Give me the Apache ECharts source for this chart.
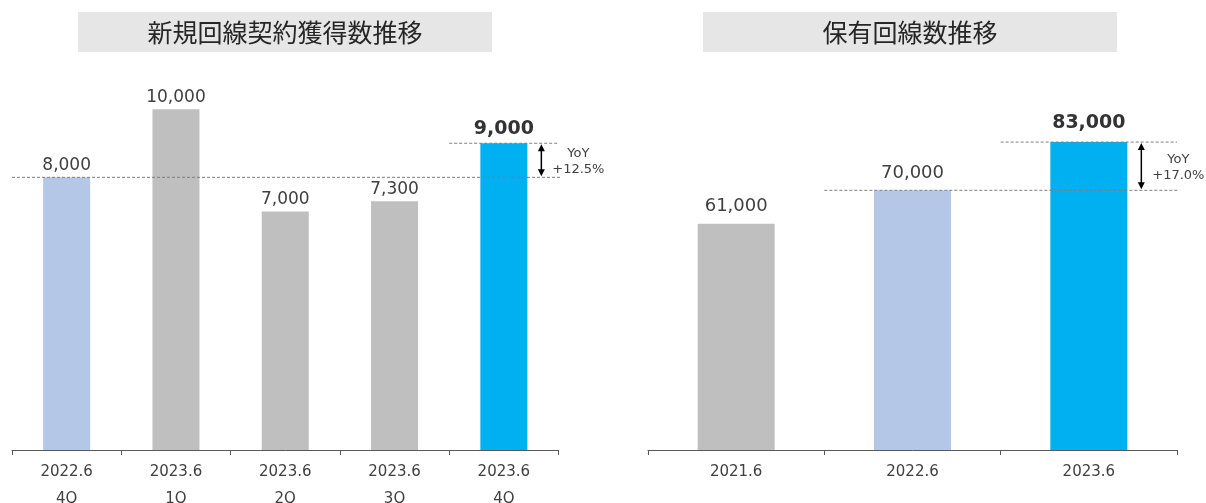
<!DOCTYPE html>
<html>
<head>
<meta charset="utf-8">
<script src="https://cdn.jsdelivr.net/npm/echarts@6/dist/echarts.min.js"></script>
<style>
  html, body { margin: 0; padding: 0; background: #fff; }
  #main { width: 1206px; height: 503px; }
</style>
</head>
<body>
<div id="main"></div>
<script>
// 新規回線契約獲得数 (quarterly)
const newPeriods = ['2022.6', '2023.6', '2023.6', '2023.6', '2023.6'];
const newQuarters = ['4Q', '1Q', '2Q', '3Q', '4Q'];
const newLines = [8000, 10000, 7000, 7300, 9000];
const newColors = ['#b4c7e7', '#bfbfbf', '#bfbfbf', '#bfbfbf', '#00b0f0'];
const newYoY = '+12.5%';

// 保有回線数 (yearly)
const heldPeriods = ['2021.6', '2022.6', '2023.6'];
const heldLines = [61000, 70000, 83000];
const heldColors = ['#bfbfbf', '#b4c7e7', '#00b0f0'];
const heldYoY = '+17.0%';

const FONT = '"DejaVu Sans", Verdana, sans-serif';
const CJK = '"Noto Sans CJK JP", sans-serif';
const TEXT = '#404040';

function barData(values, colors, dist, boldDist) {
  return values.map(function (v, i) {
    const last = i === values.length - 1;
    return {
      value: v,
      itemStyle: { color: colors[i] },
      label: last
        ? { fontWeight: 'bold', fontSize: 19, color: '#333', distance: boldDist }
        : { distance: dist }
    };
  });
}

const axisCommon = {
  type: 'category',
  axisLine: { lineStyle: { color: '#595959', width: 1 } },
  axisTick: { show: true, length: 5, lineStyle: { color: '#595959' } },
  axisLabel: { color: TEXT, fontSize: 15, fontFamily: FONT, lineHeight: 27, margin: 9, interval: 0 }
};

const option = {
  animation: false,
  grid: [
    { left: 12, width: 546.5, top: 41, bottom: 53, outerBoundsMode: 'none', containLabel: false },
    { left: 648, width: 529, top: 79, bottom: 53, outerBoundsMode: 'none', containLabel: false }
  ],
  xAxis: [
    Object.assign({}, axisCommon, {
      gridIndex: 0,
      data: newPeriods.map(function (p, i) { return p + '\n' + newQuarters[i]; })
    }),
    Object.assign({}, axisCommon, { gridIndex: 1, data: heldPeriods })
  ],
  yAxis: [
    { gridIndex: 0, type: 'value', min: 0, max: 12000, show: false, splitLine: { show: false } },
    { gridIndex: 1, type: 'value', min: 0, max: 100000, show: false, splitLine: { show: false } }
  ],
  series: [
    {
      type: 'bar',
      xAxisIndex: 0,
      yAxisIndex: 0,
      barWidth: 47,
      data: barData(newLines, newColors, 3, 5),
      label: {
        show: true, position: 'top', fontSize: 17, fontFamily: FONT, color: TEXT,
        formatter: function (p) { return p.value.toLocaleString('en-US'); }
      }
    },
    {
      type: 'bar',
      xAxisIndex: 1,
      yAxisIndex: 1,
      barWidth: 77,
      data: barData(heldLines, heldColors, 8, 10),
      label: {
        show: true, position: 'top', fontSize: 18, fontFamily: FONT, color: TEXT,
        formatter: function (p) { return p.value.toLocaleString('en-US'); }
      }
    }
  ]
};

const chart = echarts.init(document.getElementById('main'));
chart.setOption(option);

function dashed(x1, x2, y) {
  return {
    type: 'line', z: 10,
    shape: { x1: x1, y1: y, x2: x2, y2: y },
    style: { stroke: '#7f7f7f', lineWidth: 1, lineDash: [3, 2] }
  };
}

function arrow(x, yTop, yBot) {
  const h = 7, w = 3.5;
  return [
    { type: 'line', z: 10, shape: { x1: x, y1: yTop + 3, x2: x, y2: yBot - 3 }, style: { stroke: '#000', lineWidth: 1.5 } },
    { type: 'polygon', z: 10, shape: { points: [[x, yTop], [x - w, yTop + h], [x + w, yTop + h]] }, style: { fill: '#000' } },
    { type: 'polygon', z: 10, shape: { points: [[x, yBot], [x - w, yBot - h], [x + w, yBot - h]] }, style: { fill: '#000' } }
  ];
}

function titleBox(x, w, text) {
  return [
    { type: 'rect', shape: { x: x, y: 12, width: w, height: 40 }, style: { fill: '#e7e6e6' } },
    {
      type: 'text', z: 5,
      style: {
        text: text, x: x + w / 2, y: 32, align: 'center', verticalAlign: 'middle',
        fontSize: 25, fontFamily: CJK, fill: '#262626'
      }
    }
  ];
}

// YoY annotation: reference bar (prev) vs last bar, in grid g
function yoy(g, values, prevIdx, barW, label) {
  const last = values.length - 1;
  const pLast = chart.convertToPixel({ gridIndex: g }, [last, values[last]]);
  const pPrev = chart.convertToPixel({ gridIndex: g }, [prevIdx, values[prevIdx]]);
  const p0 = chart.convertToPixel({ gridIndex: g }, [0, 0]);
  const p1 = chart.convertToPixel({ gridIndex: g }, [1, 0]);
  const band = p1[0] - p0[0];
  const axisEnd = p0[0] - band / 2 + band * values.length;
  const barRight = pLast[0] + barW / 2;
  const out = [
    dashed(pPrev[0] - band / 2, axisEnd + 2, pPrev[1]),
    dashed(pLast[0] - band / 2, axisEnd, pLast[1])
  ].concat(arrow(barRight + 14, pLast[1] + 1, pPrev[1] - 1));
  out.push({
    type: 'text', z: 10,
    style: {
      text: 'YoY\n' + label, x: barRight + 51, y: (pLast[1] + pPrev[1]) / 2 + 1,
      align: 'center', verticalAlign: 'middle', fontSize: 13, lineHeight: 16,
      fontFamily: FONT, fill: TEXT
    }
  });
  return out;
}

const graphics = []
  .concat(titleBox(78, 414, '新規回線契約獲得数推移'))
  .concat(titleBox(703, 414, '保有回線数推移'))
  .concat(yoy(0, newLines, 0, 47, newYoY))
  .concat(yoy(1, heldLines, 1, 77, heldYoY));

chart.setOption({ graphic: graphics });
</script>
</body>
</html>
